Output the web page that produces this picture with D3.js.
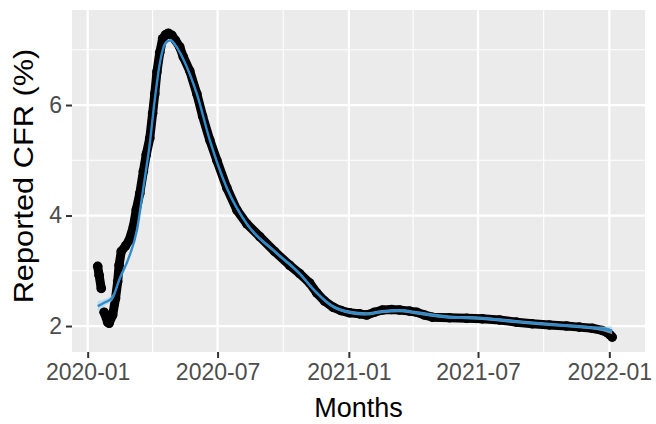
<!DOCTYPE html>
<meta charset="utf-8">

<head>
    <title>Reported CFR</title>
</head>

<style>
    body {
        margin: 0;
        background-color: #ffffff;
        font-family: "Liberation Sans", Arial;
    }

    .grid line {
        stroke: #ffffff;
    }

    .axis path {
        display: none;
    }

    .axis line {
        stroke: #333333;
        stroke-width: 2px;
    }

    .axis text {
        fill: #4d4d4d;
        font-size: 23px;
        font-family: "Liberation Sans", Arial;
    }

    text.axtitle {
        font-size: 27px;
        fill: #000000;
    }
</style>

<body>
    <svg width="656" height="424"></svg>
</body>

<script src="https://d3js.org/d3.v7.min.js"></script>

<script>
    var obsDates = ["2020-01-15", "2020-01-17", "2020-01-20", "2020-01-24", "2020-01-29", "2020-01-31",
        "2020-02-05", "2020-02-09", "2020-02-12", "2020-02-14", "2020-02-17", "2020-02-23", "2020-02-28",
        "2020-03-05", "2020-03-09", "2020-03-14", "2020-03-19", "2020-03-23", "2020-03-28", "2020-04-01",
        "2020-04-04", "2020-04-07", "2020-04-11", "2020-04-15", "2020-04-19", "2020-04-23", "2020-04-28",
        "2020-05-03", "2020-05-09", "2020-05-14", "2020-05-23", "2020-06-02", "2020-06-10", "2020-06-20",
        "2020-06-30", "2020-07-14", "2020-07-28", "2020-08-11", "2020-08-29", "2020-09-19", "2020-10-10",
        "2020-10-24", "2020-11-07", "2020-11-17", "2020-11-28", "2020-12-10", "2020-12-21", "2021-01-02",
        "2021-01-16", "2021-01-26", "2021-02-06", "2021-02-17", "2021-03-02", "2021-03-13", "2021-03-27",
        "2021-04-06", "2021-04-17", "2021-04-28", "2021-05-22", "2021-06-15", "2021-07-07", "2021-07-31",
        "2021-08-24", "2021-09-15", "2021-10-09", "2021-11-02", "2021-11-20", "2021-12-08", "2021-12-22",
        "2021-12-29", "2022-01-02", "2022-01-05"];
    var obsValues = [3.08, 2.92, 2.68, 2.25, 2.07, 2.05,
        2.2, 2.5, 2.8, 3.1, 3.35, 3.45, 3.55,
        3.8, 4.1, 4.4, 4.8, 5.1, 5.4, 5.85,
        6.2, 6.6, 6.95, 7.2, 7.27, 7.3, 7.26,
        7.17, 7.05, 6.87, 6.62, 6.2, 5.8, 5.37,
        5.0, 4.5, 4.1, 3.85, 3.62, 3.35, 3.1,
        2.95, 2.78, 2.6, 2.45, 2.34, 2.28, 2.24,
        2.22, 2.2, 2.25, 2.29, 2.3, 2.29, 2.27,
        2.25, 2.2, 2.16, 2.15, 2.14, 2.13, 2.11,
        2.07, 2.04, 2.02, 2.0, 1.98, 1.96, 1.92,
        1.88, 1.84, 1.8];

    // smoothed fit and its band half-width
    var fitDates = ["2020-01-15", "2020-01-24", "2020-02-05", "2020-02-14", "2020-02-28", "2020-03-10",
        "2020-03-19", "2020-03-28", "2020-04-04", "2020-04-11", "2020-04-19", "2020-04-26", "2020-05-03",
        "2020-05-14", "2020-06-02", "2020-06-20", "2020-07-14", "2020-08-11", "2020-09-19", "2020-10-24",
        "2020-11-17", "2020-12-10", "2021-01-02", "2021-01-26", "2021-02-17", "2021-03-13", "2021-04-06",
        "2021-05-22", "2021-07-07", "2021-08-24", "2021-10-09", "2021-11-20", "2021-12-22", "2022-01-05"];
    var fitValues = [2.36, 2.42, 2.52, 2.83, 3.25, 3.74,
        4.5, 5.3, 6.1, 6.75, 7.12, 7.17, 7.08,
        6.83, 6.2, 5.37, 4.5, 3.85, 3.35, 2.95,
        2.6, 2.35, 2.25, 2.22, 2.26, 2.28, 2.24,
        2.16, 2.14, 2.08, 2.03, 1.99, 1.95, 1.92];
    var fitSe = [0.09, 0.06, 0.05, 0.04, 0.03, 0.03,
        0.03, 0.03, 0.03, 0.03, 0.03, 0.03, 0.03,
        0.03, 0.03, 0.03, 0.03, 0.03, 0.03, 0.03,
        0.03, 0.03, 0.03, 0.03, 0.03, 0.03, 0.03,
        0.03, 0.03, 0.03, 0.03, 0.03, 0.04, 0.07];

    var xLimits = ["2019-12-10", "2022-02-20"];
    var yLimits = [1.53, 7.72];
    var yBreaks = [2, 4, 6];
    var yMinor = [3, 5, 7];
    var xBreaks = ["2020-01-01", "2020-07-01", "2021-01-01", "2021-07-01", "2022-01-01"];
    var xMinor = ["2020-04-01", "2020-10-01", "2021-04-01", "2021-10-01"];

    var parseDate = d3.timeParse("%Y-%m-%d");
    var formatMonth = d3.timeFormat("%Y-%m");

    var obs = obsDates.map((d, i) => ({ date: parseDate(d), value: obsValues[i] }));
    var fit = fitDates.map((d, i) => ({ date: parseDate(d), value: fitValues[i], se: fitSe[i] }));

    var svg = d3.select("svg"),
        panel = { left: 72, right: 645, top: 10, bottom: 352 };

    var x = d3.scaleTime()
        .domain(xLimits.map(parseDate))
        .range([panel.left, panel.right]);

    var y = d3.scaleLinear()
        .domain(yLimits)
        .range([panel.bottom, panel.top]);

    svg.append("rect")
        .attr("x", panel.left)
        .attr("y", panel.top)
        .attr("width", panel.right - panel.left)
        .attr("height", panel.bottom - panel.top)
        .attr("fill", "#ebebeb");

    var grid = svg.append("g").attr("class", "grid");

    grid.selectAll(".hminor")
        .data(yMinor)
        .enter()
        .append("line")
        .attr("x1", panel.left).attr("x2", panel.right)
        .attr("y1", d => y(d)).attr("y2", d => y(d))
        .attr("stroke-width", 1.1);

    grid.selectAll(".vminor")
        .data(xMinor)
        .enter()
        .append("line")
        .attr("y1", panel.top).attr("y2", panel.bottom)
        .attr("x1", d => x(parseDate(d))).attr("x2", d => x(parseDate(d)))
        .attr("stroke-width", 1.1);

    grid.selectAll(".hmajor")
        .data(yBreaks)
        .enter()
        .append("line")
        .attr("x1", panel.left).attr("x2", panel.right)
        .attr("y1", d => y(d)).attr("y2", d => y(d))
        .attr("stroke-width", 2.2);

    grid.selectAll(".vmajor")
        .data(xBreaks)
        .enter()
        .append("line")
        .attr("y1", panel.top).attr("y2", panel.bottom)
        .attr("x1", d => x(parseDate(d))).attr("x2", d => x(parseDate(d)))
        .attr("stroke-width", 2.2);

    // observed points, joined so the band stays solid (gap after the first few days)
    var ptLine = d3.line().x(d => x(d.date)).y(d => y(d.value));

    svg.selectAll(".run")
        .data([obs.slice(0, 3), obs.slice(3)])
        .enter()
        .append("path")
        .attr("class", "run")
        .attr("fill", "none")
        .attr("stroke", "#000000")
        .attr("stroke-width", 9)
        .attr("stroke-linejoin", "round")
        .attr("stroke-linecap", "round")
        .attr("d", ptLine);

    svg.selectAll(".pt")
        .data(obs)
        .enter()
        .append("circle")
        .attr("class", "pt")
        .attr("cx", d => x(d.date))
        .attr("cy", d => y(d.value))
        .attr("r", 4.8)
        .attr("fill", "#000000");

    svg.append("path")
        .datum(fit)
        .attr("fill", "#a9d3ee")
        .attr("opacity", 0.7)
        .attr("d", d3.area()
            .curve(d3.curveMonotoneX)
            .x(d => x(d.date))
            .y0(d => y(d.value - d.se))
            .y1(d => y(d.value + d.se)));

    svg.append("path")
        .datum(fit)
        .attr("fill", "none")
        .attr("stroke", "#2f8ccc")
        .attr("stroke-width", 2.4)
        .attr("d", d3.line().curve(d3.curveMonotoneX).x(d => x(d.date)).y(d => y(d.value)));

    // axes
    var xAxis = d3.axisBottom(x)
        .tickValues(xBreaks.map(parseDate))
        .tickSize(6)
        .tickPadding(6)
        .tickFormat(formatMonth);

    var yAxis = d3.axisLeft(y)
        .tickValues(yBreaks)
        .tickSize(6)
        .tickPadding(4)
        .tickFormat(d3.format("d"));

    svg.append("g")
        .attr("class", "axis")
        .attr("transform", "translate(0," + panel.bottom + ")")
        .call(xAxis);

    svg.append("g")
        .attr("class", "axis")
        .attr("transform", "translate(" + panel.left + ",0)")
        .call(yAxis);

    svg.append("text")
        .attr("class", "axtitle")
        .attr("x", (panel.left + panel.right) / 2)
        .attr("y", 417)
        .attr("text-anchor", "middle")
        .text("Months");

    // the reference looks stretched a little vertically here
    svg.append("text")
        .attr("class", "axtitle")
        .attr("transform", "translate(33,176) scale(1,1.14) rotate(-90)")
        .attr("text-anchor", "middle")
        .text("Reported CFR (%)");
</script>
